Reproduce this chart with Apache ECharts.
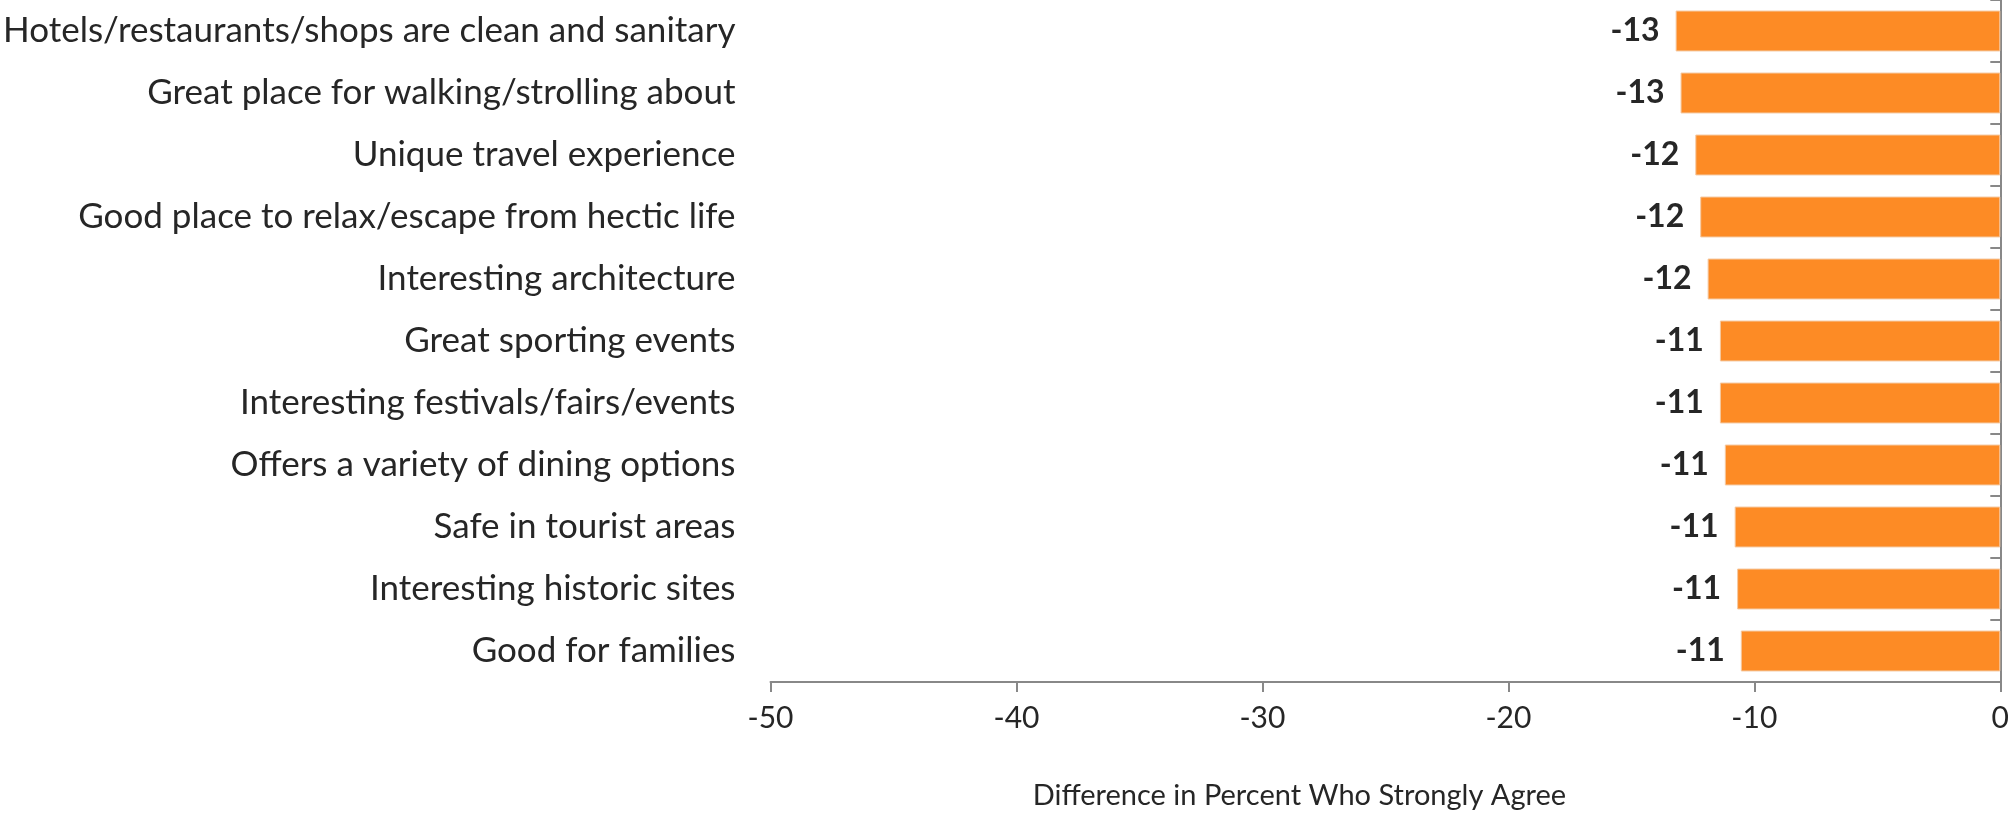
<!DOCTYPE html>
<html>
<head>
<meta charset="utf-8">
<script src="https://cdn.jsdelivr.net/npm/echarts@6/dist/echarts.min.js"></script>
<style>
html,body{margin:0;padding:0;background:#fff;}
#chart{width:2012px;height:815px;}
</style>
</head>
<body>
<div id="chart"></div>
<script>
const categories = [
  "Hotels/restaurants/shops are clean and sanitary",
  "Great place for walking/strolling about",
  "Unique travel experience",
  "Good place to relax/escape from hectic life",
  "Interesting architecture",
  "Great sporting events",
  "Interesting festivals/fairs/events",
  "Offers a variety of dining options",
  "Safe in tourist areas",
  "Interesting historic sites",
  "Good for families"
];
const values = [-13.2, -13.0, -12.4, -12.2, -11.9, -11.4, -11.4, -11.2, -10.8, -10.7, -10.55];
const xTicks = { min: -50, max: 0, interval: 10 };
const xAxisTitle = "Difference in Percent Who Strongly Agree";

const FONT = "Lato";
const chart = echarts.init(document.getElementById('chart'), null, { renderer: 'canvas' });
chart.setOption({
  animation: false,
  backgroundColor: '#ffffff',
  grid: { left: 769, right: 7, top: 0, bottom: 131, containLabel: false },
  xAxis: {
    type: 'value',
    min: xTicks.min, max: xTicks.max, interval: xTicks.interval,
    axisLine: { show: true, lineStyle: { color: '#888888', width: 2 } },
    axisTick: { show: true, length: 10, lineStyle: { color: '#888888', width: 2 } },
    splitLine: { show: false },
    axisLabel: { color: '#262626', fontSize: 30, fontFamily: FONT, margin: 21 },
    name: xAxisTitle,
    nameLocation: 'middle',
    nameGap: 99,
    nameTextStyle: { color: '#262626', fontSize: 29, fontFamily: FONT, padding: [0, 172, 0, 0] }
  },
  yAxis: [
    {
      type: 'category', data: categories, inverse: true, position: 'left',
      axisLine: { show: false }, axisTick: { show: false },
      axisLabel: { color: '#262626', fontSize: 35, fontFamily: FONT, margin: 35 }
    },
    {
      type: 'category', data: categories, inverse: true, position: 'right',
      axisLine: { show: true, onZero: false, lineStyle: { color: '#888888', width: 2 } },
      axisTick: { show: true, inside: true, length: 10, lineStyle: { color: '#888888', width: 2 } },
      axisLabel: { show: false }
    }
  ],
  series: [{
    type: 'bar',
    yAxisIndex: 0,
    data: values,
    barWidth: '66%',
    itemStyle: { color: '#FD8B25', borderColor: '#F5C8A0', borderWidth: 1 },
    label: {
      show: true, position: 'left', distance: 16,
      color: '#262626', fontSize: 32, fontWeight: 'bold', fontFamily: FONT,
      formatter: p => p.value.toFixed(0)
    }
  }]
});
</script>
</body>
</html>
